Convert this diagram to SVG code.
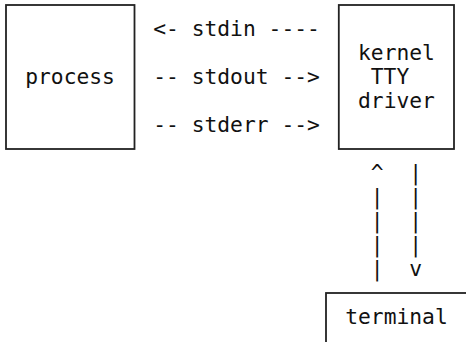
<svg xmlns="http://www.w3.org/2000/svg" width="466" height="342" viewBox="0 0 466 342">
  <style>
    .box { fill: #ffffff; stroke: #222222; stroke-width: 1.8; }
    text { font-family: "DejaVu Sans Mono", "Liberation Mono", monospace; font-size: 21.3px; fill: #111111; white-space: pre; }
  </style>
  <rect width="466" height="342" fill="#ffffff"/>

  <!-- process -->
  <g id="process">
    <rect class="box" x="6" y="5" width="128.5" height="144"/>
    <text x="25.2" y="83.5">process</text>
  </g>

  <!-- kernel TTY driver -->
  <g id="kernel-tty-driver">
    <rect class="box" x="338.8" y="5" width="115.2" height="144"/>
    <text x="358" y="59.5">kernel</text>
    <text x="370.8" y="83.5">TTY</text>
    <text x="358" y="107.5">driver</text>
  </g>

  <!-- terminal -->
  <g id="terminal">
    <rect class="box" x="326" y="293" width="160" height="60"/>
    <text x="345.2" y="323.5">terminal</text>
  </g>

  <!-- streams between the boxes -->
  <g id="connectors">
    <text x="153.2" y="35.5">&lt;- stdin ----</text>
    <text x="153.2" y="83.5">-- stdout --&gt;</text>
    <text x="153.2" y="131.5">-- stderr --&gt;</text>

    <text x="370.8" y="179.5">^</text>
    <text x="370.8" y="203.5">|</text>
    <text x="370.8" y="227.5">|</text>
    <text x="370.8" y="251.5">|</text>
    <text x="370.8" y="275.5">|</text>

    <text x="409.2" y="179.5">|</text>
    <text x="409.2" y="203.5">|</text>
    <text x="409.2" y="227.5">|</text>
    <text x="409.2" y="251.5">|</text>
    <text x="409.2" y="275.5">v</text>
  </g>
</svg>
